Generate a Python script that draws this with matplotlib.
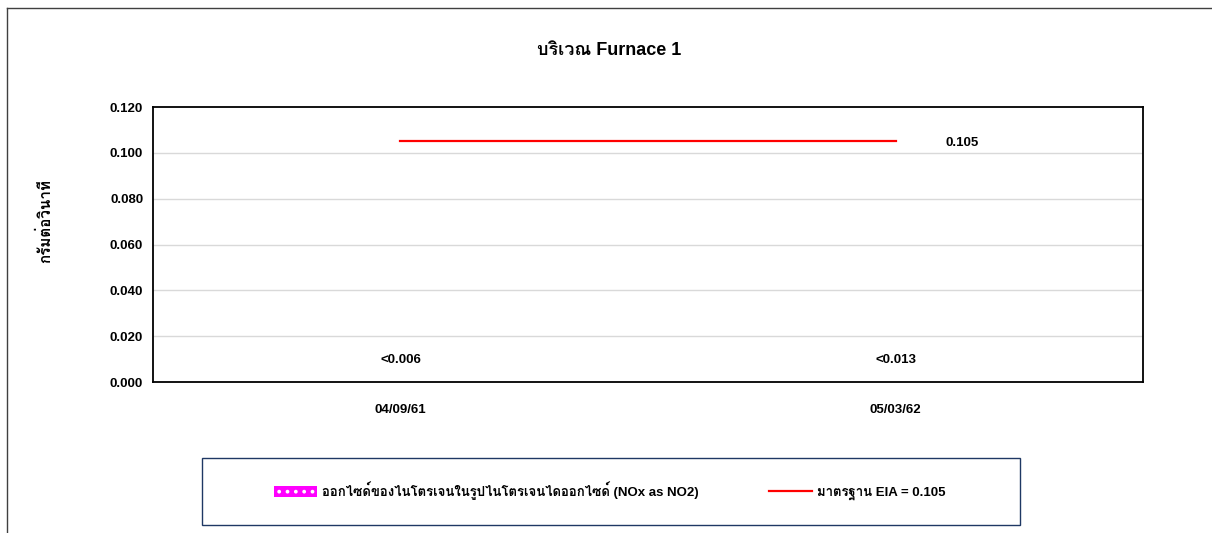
import matplotlib
matplotlib.use("Agg")
import matplotlib.pyplot as plt
from matplotlib import font_manager, ft2font
from matplotlib.patches import Patch, Rectangle
from matplotlib.lines import Line2D

# find an installed font that can draw Thai
thai_font = None
for f in font_manager.fontManager.ttflist:
    try:
        if ft2font.FT2Font(f.fname).get_char_index(ord('ก')):
            thai_font = f.name
            break
    except Exception:
        pass
fams = ['Liberation Sans']
if thai_font:
    fams.append(thai_font)
fams.append('DejaVu Sans')
plt.rcParams['font.family'] = fams
plt.rcParams['hatch.linewidth'] = 1.5

# data
dates = ['04/09/61', '05/03/62']
nox = [0, 0]                      # below detection limit
nox_labels = ['<0.006', '<0.013']
standard = 0.105
title = 'บริเวณ Furnace 1'
ylabel = 'กรัมต่อวินาที'
nox_name = 'ออกไซด์ของไนโตรเจนในรูปไนโตรเจนไดออกไซด์ (NOx as NO2)'
std_name = 'มาตรฐาน EIA = 0.105'

fs = 9.5

fig = plt.figure(figsize=(12.12, 5.33), dpi=100)
ax = fig.add_axes([0.1262, 0.2833, 0.8169, 0.5159])

x = list(range(len(dates)))
ax.bar(x, nox, width=0.5, color='#FF00FF')
ax.plot(x, [standard] * len(x), color='#FF0000', lw=1.6)

for xi, lab in zip(x, nox_labels):
    ax.text(xi, 0.0096, lab, ha='center', va='center', fontsize=fs, fontweight='bold')
ax.text(x[-1] + 0.10, standard, '%.3f' % standard, ha='left', va='center_baseline',
        fontsize=fs, fontweight='bold')

ax.set_xlim(-0.5, len(dates) - 0.5)
ax.set_ylim(0, 0.12)
ax.set_yticks([i * 0.02 for i in range(7)])
ax.set_yticklabels(['%.3f' % (i * 0.02) for i in range(7)], fontsize=fs, fontweight='bold')
ax.set_xticks(x)
ax.set_xticklabels(dates, fontsize=fs, fontweight='bold')
ax.tick_params(axis='y', length=0, pad=7)
ax.tick_params(axis='x', length=0, pad=15.5)
for yv in [0.02, 0.04, 0.06, 0.08, 0.10]:
    ax.axhline(yv, color='#D9D9D9', lw=1, zorder=0)
for s in ax.spines.values():
    s.set_linewidth(1.3)
    s.set_color('black')

fig.text(0.5025, 0.906, title, ha='center', va='center', fontsize=13, fontweight='bold')
fig.text(0.037, 0.585, ylabel, ha='center', va='center', rotation=90, fontsize=11,
         fontweight='bold')

# legend box
fig.add_artist(Rectangle((0.1667, 0.0150), 0.6749, 0.1257, transform=fig.transFigure,
                         fill=False, edgecolor='#1F3864', lw=1))
handles = [Patch(facecolor='#FF00FF', edgecolor='white', hatch='..', lw=0),
           Line2D([0], [0], color='#FF0000', lw=1.6)]
leg = fig.legend(handles, [nox_name, std_name], loc='center', bbox_to_anchor=(0.503, 0.079),
                 ncol=2, frameon=False, handlelength=3.3, handleheight=0.8,
                 handletextpad=0.35, columnspacing=5.3,
                 prop={'size': fs, 'weight': 'bold'})

# outer chart frame
fig.add_artist(Line2D([0.0058, 1.0], [0.985, 0.985], transform=fig.transFigure,
                      color='#404040', lw=1))
fig.add_artist(Line2D([0.0058, 0.0058], [0.0, 0.985], transform=fig.transFigure,
                      color='#404040', lw=1))

fig.savefig('out.png', dpi=100)
